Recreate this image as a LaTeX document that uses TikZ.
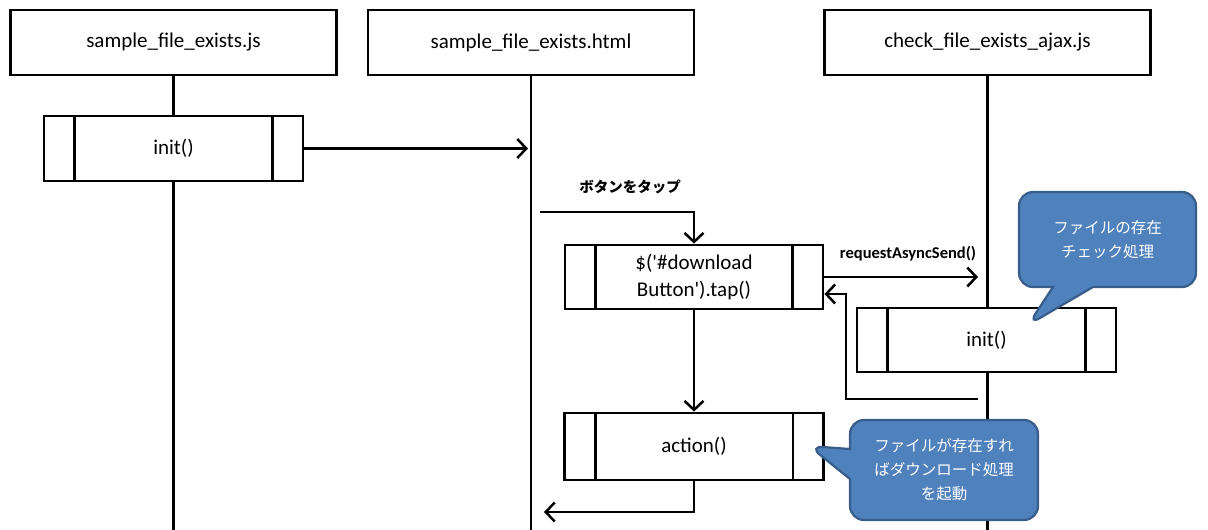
\documentclass[tikz,border=0pt]{standalone}
\usepackage{fontspec}
\setmainfont{Carlito}
\newfontfamily\jp{Noto Sans CJK JP}
\usetikzlibrary{arrows.meta,shapes.callouts}
\definecolor{callblue}{HTML}{4F81BD}
\definecolor{callborder}{HTML}{385D8A}
\begin{document}
\begin{tikzpicture}[x=1pt,y=-1pt,
  every node/.style={font=\fontsize{21}{27}\selectfont},
  head/.style={draw,line width=2.8,minimum width=326,minimum height=65,inner sep=0},
  proc/.style={draw,fill=white,line width=2.8,minimum width=259,minimum height=65,inner sep=0,align=center},
  life/.style={line width=2.3},
  msg/.style={line width=2.5,-{Straight Barb[length=9,width=19,line width=2.5]}},
  call/.style={rectangle callout,rounded corners=14,fill=callblue,draw=callborder,line width=2.2,text=white,align=center,font=\jp\fontsize{15.5}{24}\selectfont,inner sep=0},
  lbl/.style={inner sep=0}
]
\useasboundingbox (0,0) rectangle (1208,530);
\newcommand{\inner}[1]{\draw[line width=2.8] ([xshift=32pt]#1.north west) -- ([xshift=32pt]#1.south west)
  ([xshift=-32pt]#1.north east) -- ([xshift=-32pt]#1.south east);}

% headers
\node[head] (h1) at (173.5,42.5) {sample\_file\_exists.js};
\node[head] (h2) at (531,42.5) {sample\_file\_exists.html};
\node[head] (h3) at (987.5,42.5) {check\_file\_exists\_ajax.js};

% lifelines
\coordinate (e1) at (173.5,530);
\coordinate (e2) at (531,530);
\coordinate (e3) at (987.5,530);
\draw[life] (h1.south) -- (e1);
\draw[life] (h2.south) -- (e2);
\draw[life] (h3.south) -- (e3);

% processes
\node[proc] (init1) at (173.5,148.5) {init()};
\inner{init1}
\node[proc,minimum width=258,minimum height=64] (tap) at (694,277) {\$(\textquotesingle\#download\\Button\textquotesingle).tap()};
\inner{tap}
\node[proc,minimum height=64] (init2) at (986.5,340) {init()};
\inner{init2}
\node[proc,minimum height=67] (action) at (694,446.5) {action()};
\inner{action}

% messages
\coordinate (a1) at (528,148.5);
\draw[msg] (init1.east) -- (a1);

\coordinate (t0) at (540,212);
\draw[msg] (t0) -| (tap.north);
\node[lbl,font=\jp\bfseries\fontsize{14.5}{17}\selectfont] (lt) at (630,187) {ボタンをタップ};

\coordinate (r1) at (978,277);
\draw[msg] (tap.east) -- (r1);
\node[lbl,font=\bfseries\fontsize{16.5}{20}\selectfont] (lr) at (908,254) {requestAsyncSend()};

\coordinate (r2) at (978,399);
\draw[msg] (r2) -- ++(-132,0) |- ([yshift=-17pt]tap.east);

\draw[msg] (tap.south) -- (action.north);

\coordinate (r3) at (544,512);
\draw[msg] (action.south) |- (r3);

% callouts
\node[call,minimum width=177,minimum height=95,callout absolute pointer={(1028,325)},callout pointer width=40] (c1) at (1107.5,239.5) {ファイルの存在\\チェック処理};
\node[call,minimum width=188,minimum height=100,callout absolute pointer={(809,446)},callout pointer width=30] (c2) at (944,470) {ファイルが存在すれ\\ばダウンロード処理\\を起動};
\end{tikzpicture}
\end{document}
